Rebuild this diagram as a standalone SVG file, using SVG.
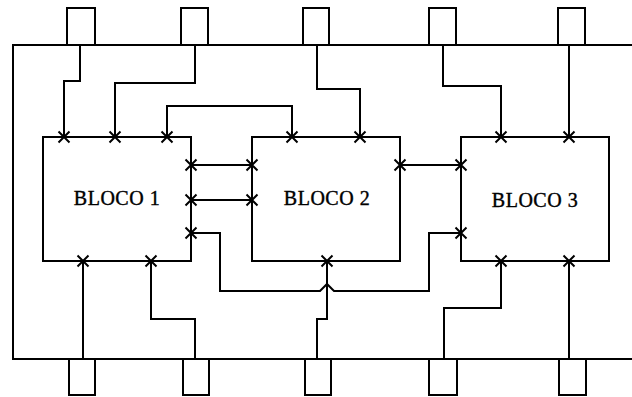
<svg xmlns="http://www.w3.org/2000/svg" xmlns:xlink="http://www.w3.org/1999/xlink" width="632" height="397" viewBox="0 0 632 397">
<style>
.ln{fill:none;stroke:#000;stroke-width:2;stroke-linejoin:miter}
.blk{fill:#fff;stroke:#000;stroke-width:2}
.lbl{font-family:"Liberation Serif",serif;font-size:20px;letter-spacing:0.5px;fill:#000;stroke:#000;stroke-width:0.4;text-anchor:middle}
</style>
<defs>
<path id="x" d="M-5.5,-5.5L5.5,5.5M-5.5,5.5L5.5,-5.5" fill="none" stroke="#000" stroke-width="2"/>
</defs>
<rect width="632" height="397" fill="#fff"/>
<g id="frame">
<path class="ln" d="M632,45H13V359H632"/>
</g>
<g id="pins">
<path class="ln" d="M67,45V8H95V45"/>
<path class="ln" d="M181,45V8H208V45"/>
<path class="ln" d="M303,45V8H329V45"/>
<path class="ln" d="M429,45V8H456V45"/>
<path class="ln" d="M558,45V8H585V45"/>
<path class="ln" d="M69,359V395H95V359"/>
<path class="ln" d="M183,359V395H209V359"/>
<path class="ln" d="M305,359V395H331V359"/>
<path class="ln" d="M429,359V395H457V359"/>
<path class="ln" d="M559,359V395H586V359"/>
</g>
<g id="bloco1">
<rect class="blk" x="43" y="137" width="148" height="124"/>
<text class="lbl" x="117" y="205">BLOCO 1</text>
</g>
<g id="bloco2">
<rect class="blk" x="252" y="137" width="148" height="124"/>
<text class="lbl" x="327" y="205">BLOCO 2</text>
</g>
<g id="bloco3">
<rect class="blk" x="461" y="137" width="148" height="124"/>
<text class="lbl" x="535" y="207">BLOCO 3</text>
</g>
<g id="connectors">
<path class="ln" d="M80,45V81H64V137"/>
<path class="ln" d="M195,45V83H115V137"/>
<path class="ln" d="M167,137V106H292V137"/>
<path class="ln" d="M317,45V89H360V137" stroke-width="2.5"/>
<path class="ln" d="M443,45V86H501V137"/>
<path class="ln" d="M569,45V137"/>
<path class="ln" d="M191,165H252"/>
<path class="ln" d="M191,200H252"/>
<path class="ln" d="M400,165H461"/>
<path class="ln" d="M191,233H220V291H320L327,284L334,291H429V233H461"/>
<path class="ln" d="M327,261V319H317V359"/>
<path class="ln" d="M83,261V359"/>
<path class="ln" d="M151,261V319H195V359"/>
<path class="ln" d="M501,261V308H444V359"/>
<path class="ln" d="M569,261V359"/>
<use xlink:href="#x" x="64" y="137"/>
<use xlink:href="#x" x="115" y="137"/>
<use xlink:href="#x" x="167" y="137"/>
<use xlink:href="#x" x="292" y="137"/>
<use xlink:href="#x" x="360" y="137"/>
<use xlink:href="#x" x="501" y="137"/>
<use xlink:href="#x" x="569" y="137"/>
<use xlink:href="#x" x="191" y="165"/>
<use xlink:href="#x" x="252" y="165"/>
<use xlink:href="#x" x="191" y="200"/>
<use xlink:href="#x" x="252" y="200"/>
<use xlink:href="#x" x="400" y="165"/>
<use xlink:href="#x" x="461" y="165"/>
<use xlink:href="#x" x="191" y="233"/>
<use xlink:href="#x" x="461" y="233"/>
<use xlink:href="#x" x="83" y="261"/>
<use xlink:href="#x" x="151" y="261"/>
<use xlink:href="#x" x="327" y="261"/>
<use xlink:href="#x" x="501" y="261"/>
<use xlink:href="#x" x="569" y="261"/>
</g>
</svg>
